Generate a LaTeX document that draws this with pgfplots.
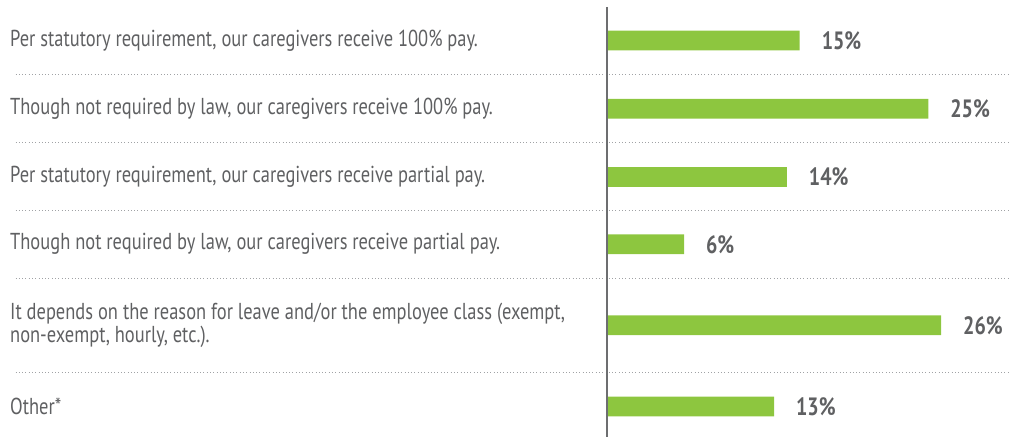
\documentclass[border=0pt]{standalone}
\usepackage{fontspec}
\setmainfont{PT Sans}[FakeStretch=0.8]
\usepackage{pgfplots}
\pgfplotsset{compat=1.18}
\definecolor{bargreen}{HTML}{8DC63F}
\definecolor{labelgray}{HTML}{5F6062}
\definecolor{axisgray}{HTML}{6D6E70}
\definecolor{dotgray}{HTML}{A0A2A5}

\begin{document}
\begin{tikzpicture}
\begin{axis}[
  scale only axis, width=760.5pt, height=331.5pt,
  xmin=-46.77, xmax=31.23, ymin=0, ymax=442, y dir=reverse,
  xbar, bar width=20, bar shift=0pt,
  axis line style={draw=none}, major tick style={draw=none},
  xtick=\empty,
  ytick={41,110,179,247,329,411},
  yticklabels={
    {Per statutory requirement, our caregivers receive 100\% pay.},
    {Though not required by law, our caregivers receive 100\% pay.},
    {Per statutory requirement, our caregivers receive partial pay.},
    {Though not required by law, our caregivers receive partial pay.},
    {It depends on the reason for leave and/or the employee class (exempt,\\non-exempt, hourly, etc.).},
    {Other*}},
  yticklabel style={anchor=west, xshift=7.5pt, align=left, inner sep=0pt,
    font=\fontsize{17.5}{17.5}\selectfont, text=labelgray},
  point meta=x,
  /pgf/number format/assume math mode=true,
  nodes near coords={\pgfmathprintnumber{\pgfplotspointmeta}\%},
  nodes near coords style={anchor=west, inner sep=0pt, xshift=16.5pt,
    font=\bfseries\fontsize{19}{19}\selectfont, text=labelgray},
  clip=false,
]
\foreach \yy in {75,144,213,282,377} {
  \edef\tmp{\noexpand\draw[dotgray, line width=0.9pt, dash pattern=on 0.75pt off 1.75pt]
    (axis cs:-46,\yy) -- (axis cs:31.23,\yy);}
  \tmp
}
\addplot[fill=bargreen, draw=none] coordinates {
  (15,41) (25,110) (14,179) (6,247) (26,329) (13,411)};
\draw[axisgray, line width=1.9pt] (axis cs:0,7) -- (axis cs:0,442);
\end{axis}
\end{tikzpicture}
\end{document}
